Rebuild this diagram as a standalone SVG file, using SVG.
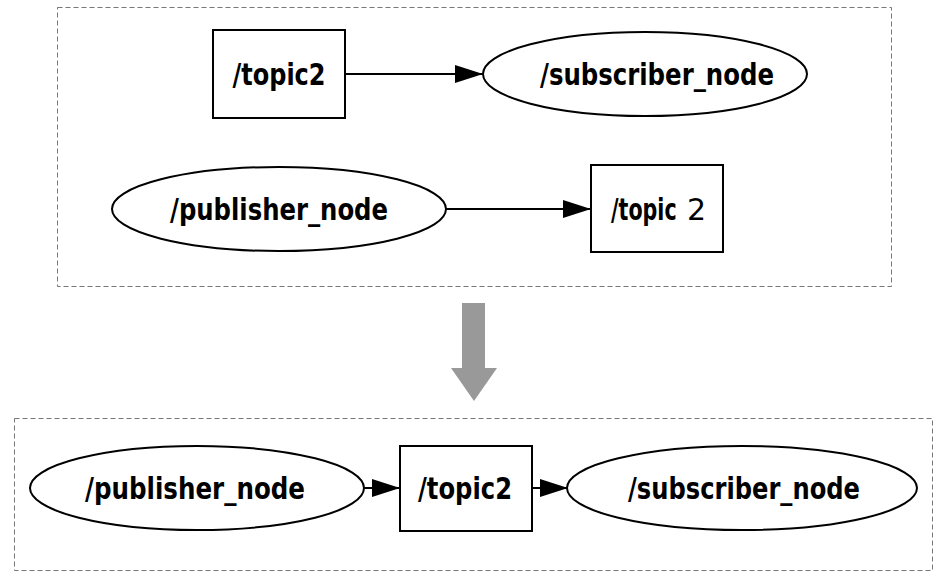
<svg xmlns="http://www.w3.org/2000/svg" width="944" height="579" viewBox="0 0 944 579">
<defs>
<marker id="ah" markerWidth="28" markerHeight="18" refX="28" refY="9" orient="auto" markerUnits="userSpaceOnUse">
<path d="M0,0 L28,9 L0,18 Z" fill="#000"/>
</marker>
<style>
.frame{fill:none;stroke:#777;stroke-width:1;stroke-dasharray:5,3}
.node{fill:#fff;stroke:#000;stroke-width:2}
.edge{fill:none;stroke:#000;stroke-width:2}
.lbl{font-family:"DejaVu Sans Condensed","DejaVu Sans",sans-serif;font-weight:bold;font-size:31px;fill:#000;text-anchor:middle}
.start{text-anchor:start}
.thin{font-family:"DejaVu Sans","Liberation Sans",sans-serif;font-weight:normal;font-size:30px;fill:#000;text-anchor:start}
</style>
</defs>
<rect class="frame" x="57.5" y="7.5" width="834" height="279"/>
<rect class="frame" x="14.5" y="418.5" width="918" height="152"/>
<g id="connectors">
<line class="edge" x1="345" y1="74" x2="483" y2="74" marker-end="url(#ah)"/>
<line class="edge" x1="446" y1="209" x2="591" y2="209" marker-end="url(#ah)"/>
<line class="edge" x1="364" y1="488" x2="400" y2="488" marker-end="url(#ah)"/>
<line class="edge" x1="532" y1="488" x2="568" y2="488" marker-end="url(#ah)"/>
</g>
<g id="transform_arrow">
<rect x="462" y="303" width="23" height="65" fill="#999"/>
<polygon points="451,368 497,368 474,401" fill="#999"/>
</g>
<g id="top_topic2">
<rect class="node" x="213" y="30" width="132" height="88"/>
<text class="lbl" x="279" y="85" textLength="93" lengthAdjust="spacingAndGlyphs">/topic2</text>
</g>
<g id="top_subscriber_node">
<ellipse class="node" cx="645" cy="74" rx="162" ry="42"/>
<text class="lbl" x="657" y="85" textLength="234" lengthAdjust="spacingAndGlyphs">/subscriber_node</text>
</g>
<g id="top_publisher_node">
<ellipse class="node" cx="279" cy="209" rx="167" ry="42"/>
<text class="lbl" x="279" y="220" textLength="218" lengthAdjust="spacingAndGlyphs">/publisher_node</text>
</g>
<g id="top_topic2_b">
<rect class="node" x="591" y="165" width="132" height="87"/>
<text class="lbl start" transform="translate(611 220) scale(0.74 1)" x="0" y="0">/topic</text>
<text class="thin" x="687" y="220">2</text>
</g>
<g id="bottom_publisher_node">
<ellipse class="node" cx="197" cy="488" rx="167" ry="42"/>
<text class="lbl" x="195" y="499" textLength="220" lengthAdjust="spacingAndGlyphs">/publisher_node</text>
</g>
<g id="bottom_topic2">
<rect class="node" x="400" y="446" width="132" height="85"/>
<text class="lbl" x="465" y="499" textLength="94" lengthAdjust="spacingAndGlyphs">/topic2</text>
</g>
<g id="bottom_subscriber_node">
<ellipse class="node" cx="742" cy="488" rx="175" ry="42"/>
<text class="lbl" x="744" y="499" textLength="232" lengthAdjust="spacingAndGlyphs">/subscriber_node</text>
</g>
</svg>
